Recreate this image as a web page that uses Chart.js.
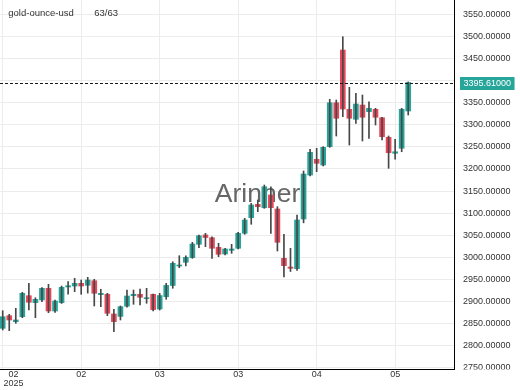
<!DOCTYPE html>
<html>
<head>
<meta charset="utf-8">
<script src="https://cdn.jsdelivr.net/npm/chart.js@4.4.1/dist/chart.umd.min.js"></script>
<style>
html,body{margin:0;padding:0;background:#fff;}
#wrap{width:520px;height:390px;position:relative;}
</style>
</head>
<body>
<div id="wrap"><canvas id="c" width="520" height="390"></canvas></div>
<script>
// ---- data ----
const symbolName = 'gold-ounce-usd';
const countLabel = '63/63';
const watermark = 'Arinner';
const opens  = [2839.4,2867.9,2854.4,2865.7,2913.2,2897.4,2903.5,2929.9,2878.6,2897.4,
                2932.9,2935.1,2941.2,2936.7,2947.1,2915.5,2916.4,2871.8,2866.3,2889.4,
                2913.2,2916.4,2906.4,2916.4,2883.1,2910.9,2936.3,2980.4,2988.8,2999.2,
                3029.5,3050.6,3044.4,3022.7,3007.6,3016.0,3020.5,3054.4,3089.7,3120.0,
                3112.3,3141.1,3109.4,2997.8,2978.1,2974.3,3086.8,3186.3,3221.9,3208.9,
                3250.4,3349.9,3469.2,3335.0,3312.4,3344.7,3329.6,3335.0,3316.0,3271.6,
                3235.4,3246.8,3331.2];
const highs  = [2879.3,2871.1,2884.7,2920.9,2941.2,2908.6,2931.3,2939.0,2903.5,2935.1,
                2944.9,2952.6,2948.7,2954.8,2950.3,2927.7,2918.6,2882.4,2889.9,2926.1,
                2926.1,2928.3,2929.9,2916.8,2918.6,2941.2,2990.1,3003.7,3003.7,3034.0,
                3050.6,3054.4,3046.7,3031.8,3020.5,3029.5,3056.7,3088.3,3122.3,3129.8,
                3163.7,3159.8,3114.6,3052.1,3020.5,3095.8,3195.4,3244.5,3246.8,3250.4,
                3357.6,3356.0,3499.3,3384.8,3371.2,3367.4,3352.2,3337.3,3316.9,3274.6,
                3267.1,3337.3,3397.0];
const lows   = [2835.6,2834.0,2850.7,2863.4,2880.8,2863.4,2899.5,2874.7,2875.6,2895.6,
                2916.4,2922.3,2916.4,2919.0,2889.9,2888.3,2868.0,2831.7,2858.2,2887.0,
                2893.7,2892.2,2896.0,2878.6,2880.8,2905.0,2930.0,2976.5,2980.4,2997.8,
                3021.8,3024.1,2997.8,3001.4,3005.3,3009.1,3018.9,3052.1,3074.8,3103.3,
                3111.0,3054.4,3014.3,2955.5,2968.0,2970.6,3078.1,3184.0,3193.8,3206.7,
                3249.0,3274.6,3318.3,3254.2,3303.3,3263.3,3269.4,3299.5,3265.5,3201.5,
                3221.9,3239.0,3322.1];
const closes = [2865.7,2858.2,2858.2,2918.6,2898.3,2905.0,2929.9,2878.6,2901.2,2932.2,
                2935.8,2941.2,2935.1,2948.7,2918.6,2918.6,2873.4,2854.4,2888.3,2912.5,
                2916.4,2909.6,2908.7,2881.7,2913.6,2936.5,2986.5,2982.7,3000.1,3030.2,
                3048.9,3044.9,3020.5,3006.9,3018.9,3018.9,3054.4,3084.5,3118.4,3114.6,
                3159.8,3112.3,3034.0,2981.1,2975.2,3084.5,3188.6,3237.7,3212.8,3249.0,
                3349.9,3314.7,3335.7,3314.7,3347.0,3317.0,3337.3,3317.0,3273.0,3236.8,
                3239.0,3335.0,3395.61];
const xTickIndices = [0, 12, 24, 36, 48, 60];
const xTickLabels  = ['02', '02', '03', '03', '04', '05'];
const yearLabel = '2025';
const yTicks = [2750,2800,2850,2900,2950,3000,3050,3100,3150,3200,3250,3300,3350,3400,3450,3500,3550];

// ---- styles ----
const UP = '#26a69a', DOWN = '#e8475a', WICK = '#474747';
const FONT = '"Liberation Sans", Arial, sans-serif';

const idx = opens.map((_, i) => i);
const bodyData = idx.map(i => ({x: i, y: [opens[i], closes[i]]}));
const wickData = idx.map(i => ({x: i, y: [lows[i], highs[i]]}));
const bodyColors = idx.map(i => closes[i] >= opens[i] ? UP : DOWN);
const lastClose = closes[closes.length - 1];

const overlay = {
  id: 'overlay',
  beforeDatasetsDraw(chart) {
    const ctx = chart.ctx;
    ctx.save();
    ctx.font = '26.5px ' + FONT;
    ctx.fillStyle = 'rgba(85,85,85,0.9)';
    ctx.textAlign = 'center';
    ctx.textBaseline = 'alphabetic';
    const xs = chart.scales.x;
    ctx.fillText(watermark, xs.left + 257.5, 202.3);
    ctx.restore();
  },
  afterDraw(chart) {
    const ctx = chart.ctx;
    const xs = chart.scales.x, ys = chart.scales.y;
    const area = chart.chartArea;
    ctx.save();
    // cover y labels below the time scale
    ctx.fillStyle = '#fff';
    ctx.fillRect(area.right + 1, area.bottom + 0.5, 520 - area.right, 30);
    // last price dashed line
    const py = Math.round(ys.getPixelForValue(lastClose)) + 0.5;
    ctx.strokeStyle = '#1a1a1a';
    ctx.lineWidth = 1;
    ctx.setLineDash([3, 2]);
    ctx.beginPath();
    ctx.moveTo(area.left, py);
    ctx.lineTo(area.right, py);
    ctx.stroke();
    ctx.setLineDash([]);
    // last price label
    ctx.font = '9px ' + FONT;
    const txt = lastClose.toFixed(5);
    const tw = ctx.measureText(txt).width;
    ctx.fillStyle = UP;
    ctx.fillRect(area.right + 6, py - 6.5, tw + 7, 13);
    ctx.fillStyle = '#fff';
    ctx.textAlign = 'left';
    ctx.textBaseline = 'middle';
    ctx.fillText(txt, area.right + 9.5, py + 0.5);
    // x tick labels
    ctx.fillStyle = '#333';
    ctx.textAlign = 'center';
    xTickIndices.forEach((ti, k) => {
      let px = xs.getPixelForValue(ti);
      if (k === 0) {
        const w = Math.max(ctx.measureText(xTickLabels[k]).width, ctx.measureText(yearLabel).width);
        px = Math.max(px, area.left + 3.5 + w / 2);
        ctx.fillText(yearLabel, px, 383.7);
      }
      ctx.fillText(xTickLabels[k], px, 375);
    });
    // header text
    ctx.font = '9.5px ' + FONT;
    ctx.textAlign = 'left';
    ctx.fillStyle = '#333';
    ctx.fillText(symbolName, 8.3, 13.3);
    ctx.fillText(countLabel, 94.3, 13.3);
    ctx.restore();
  }
};

new Chart(document.getElementById('c'), {
  type: 'bar',
  data: {
    datasets: [
      {data: wickData, backgroundColor: WICK, grouped: false, barPercentage: 1, categoryPercentage: 1, maxBarThickness: 1, borderWidth: 0},
      {data: bodyData, backgroundColor: bodyColors, grouped: false, barPercentage: 1, categoryPercentage: 1, maxBarThickness: 5, borderWidth: 0}
    ]
  },
  options: {
    responsive: false,
    animation: false,
    devicePixelRatio: 1,
    layout: {padding: 0},
    plugins: {legend: {display: false}, tooltip: {enabled: false}},
    scales: {
      x: {
        type: 'linear',
        offset: false,
        min: -0.413,
        max: 69.0,
        afterBuildTicks(s) { s.ticks = xTickIndices.map(v => ({value: v})); },
        afterFit(s) { s.height = 21; s.paddingLeft = 0; s.paddingRight = 0; },
        ticks: {display: false},
        grid: {color: '#ececec', drawTicks: false, offset: false},
        border: {display: true, color: '#000', width: 1}
      },
      y: {
        position: 'right',
        min: 2747.3,
        max: 3582.4,
        afterBuildTicks(s) { s.ticks = yTicks.map(v => ({value: v})); },
        afterFit(s) { s.width = 66; s.paddingTop = 0; s.paddingBottom = 0; },
        ticks: {
          autoSkip: false,
          padding: 9,
          color: '#333',
          font: {family: FONT, size: 9},
          callback: v => Number(v).toFixed(5)
        },
        grid: {color: '#ececec', drawTicks: false},
        border: {display: true, color: '#000', width: 1}
      }
    }
  },
  plugins: [overlay]
});
</script>
</body>
</html>
